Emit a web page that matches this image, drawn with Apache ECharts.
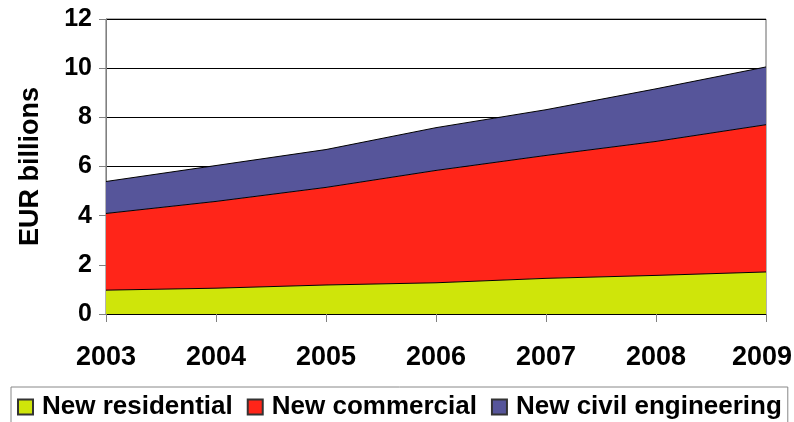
<!DOCTYPE html>
<html>
<head>
<meta charset="utf-8">
<script src="https://cdn.jsdelivr.net/npm/echarts@6/dist/echarts.min.js"></script>
<style>html,body{margin:0;padding:0;background:#fff;}#c{width:794px;height:422px;}</style>
</head>
<body>
<div id="c"></div>
<script>
var years = ['2003','2004','2005','2006','2007','2008','2009'];
var residential = [0.97, 1.05, 1.18, 1.27, 1.45, 1.57, 1.71];
var commercial = [3.12, 3.53, 3.97, 4.57, 5.00, 5.45, 5.99];
var civil = [1.30, 1.46, 1.54, 1.74, 1.86, 2.14, 2.35];
var yTicks = [0, 2, 4, 6, 8, 10, 12];

var FONT = '"Liberation Sans", Arial, sans-serif';
var chart = echarts.init(document.getElementById('c'), null, {renderer: 'canvas'});

function areaSeries(name, data, color) {
  return {
    name: name,
    type: 'line',
    stack: 'total',
    data: data,
    symbol: 'none',
    smooth: false,
    lineStyle: {color: '#000', width: 1},
    areaStyle: {color: color, opacity: 1},
    itemStyle: {color: color, borderColor: '#333', borderWidth: 1},
    emphasis: {disabled: true}
  };
}

var labelFont = {fontFamily: FONT, fontWeight: 'bold', fontSize: 27, color: '#000'};

chart.setOption({
  animation: false,
  backgroundColor: '#fff',
  grid: {left: 106, right: 28, top: 19, bottom: 108, containLabel: false, outerBoundsMode: 'none',
    show: true, borderColor: '#666', borderWidth: 1, backgroundColor: 'transparent'},
  legend: {
    data: ['New residential', 'New commercial', 'New civil engineering'],
    left: 11, top: 387,
    padding: [7, 6, 12, 6],
    borderColor: '#888', borderWidth: 1,
    itemWidth: 15, itemHeight: 15,
    itemGap: 14,
    icon: 'rect',
    textStyle: {fontFamily: FONT, fontWeight: 'bold', fontSize: 26, color: '#000', padding: [0, 0, 0, 4]}
  },
  xAxis: {
    type: 'category',
    data: years,
    boundaryGap: false,
    axisLine: {lineStyle: {color: '#000', width: 1}},
    axisTick: {show: true, interval: 0, length: 8, lineStyle: {color: '#808080'}},
    axisLabel: {
      interval: 0, hideOverlap: false,
      fontFamily: FONT, fontWeight: 'bold', fontSize: 27, color: '#000', margin: 30,
      formatter: function (v, i) { return i === years.length - 1 ? '{last|' + v + '}' : '{n|' + v + '}'; },
      rich: {
        n: labelFont,
        last: Object.assign({padding: [0, 8, 0, 0]}, labelFont)
      }
    },
    splitLine: {show: false}
  },
  yAxis: {
    type: 'value',
    min: 0, max: 12, interval: 2,
    name: 'EUR billions',
    nameLocation: 'middle',
    nameGap: 62,
    nameRotate: 90,
    nameTextStyle: {fontFamily: FONT, fontWeight: 'bold', fontSize: 27, color: '#000'},
    axisLine: {show: true, lineStyle: {color: '#808080', width: 1}},
    axisTick: {show: true, length: 7, lineStyle: {color: '#808080'}},
    axisLabel: {fontFamily: FONT, fontWeight: 'bold', fontSize: 25, color: '#000', margin: 14,
      formatter: function (v) { return yTicks.indexOf(v) >= 0 ? String(v) : ''; }},
    splitLine: {show: true, lineStyle: {color: '#000', width: 1}}
  },
  series: [
    areaSeries('New residential', residential, '#CFE50A'),
    areaSeries('New commercial', commercial, '#FF2519'),
    areaSeries('New civil engineering', civil, '#56559A')
  ]
});
</script>
</body>
</html>
